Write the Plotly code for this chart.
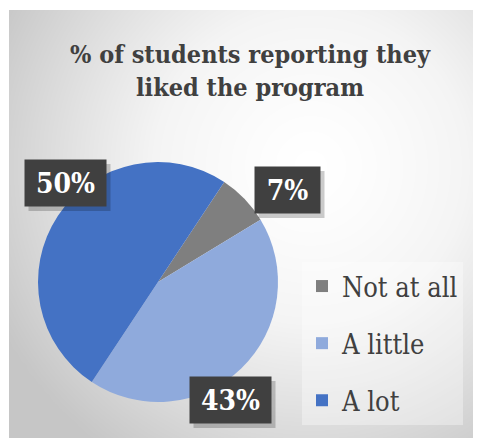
import numpy as np
import plotly.graph_objects as go

# ---- data ----
categories = ["Not at all", "A little", "A lot"]
percent_values = [7, 43, 50]
slice_colors = ["#7f7f7f", "#8faadc", "#4472c4"]
title_text = "% of students reporting they<br>liked the program"

# label box centres (reference px, style only)
label_pos_px = [(287, 190), (230, 400), (65, 183)]

W, H = 473, 430
OFF = 8  # page body margin offset
SERIF = "DejaVu Serif Condensed, DejaVu Serif"


def px(x):
    return (x - OFF) / W


def py(y):
    return 1 - (y - OFF) / H


fig = go.Figure()

# background radial gradient (styling only)
gx = np.linspace(0, 1, 60)
gy = np.linspace(0, 1, 60)
X, Y = np.meshgrid(gx, gy)
cxp, cyp = px(310), py(165)
D = np.sqrt(((X - cxp) * W) ** 2 + ((Y - cyp) * H) ** 2)
Z = np.clip(D / 350.0, 0, 1) ** 1.3
fig.add_trace(go.Heatmap(
    x=gx, y=gy, z=Z, zsmooth="best", showscale=False, hoverinfo="skip",
    colorscale=[[0, "#ffffff"], [0.35, "#f4f4f4"], [1, "#c6c6c6"]],
    xaxis="x", yaxis="y",
))

# pie
fig.add_trace(go.Pie(
    labels=categories, values=percent_values, sort=False, direction="clockwise",
    rotation=33.5, marker=dict(colors=slice_colors, line=dict(width=0)),
    textinfo="none", hoverinfo="label+percent", showlegend=False,
    domain=dict(x=[px(38), px(278)], y=[py(402), py(162)]),
))

# legend entries
for i, (cat, col) in enumerate(zip(categories, slice_colors)):
    fig.add_trace(go.Scatter(
        x=[None], y=[None], mode="markers", name=cat, legendgroup=f"g{i}",
        marker=dict(symbol="square", size=16, color=col),
        xaxis="x", yaxis="y",
    ))

# data labels
total = sum(percent_values)
annotations = []
shapes = []
for (lx, ly), v in zip(label_pos_px, percent_values):
    s = f"{round(100 * v / total)}%"
    bw, bh = 16 * len(s) + 33, 46
    shapes.append(dict(
        type="rect", xref="paper", yref="paper", layer="above",
        x0=px(lx - bw / 2 + 4), x1=px(lx + bw / 2 + 5),
        y0=py(ly + bh / 2 + 5), y1=py(ly - bh / 2 + 4),
        fillcolor="rgba(0,0,0,0.2)", line=dict(width=0),
    ))
    annotations.append(dict(
        x=px(lx), y=py(ly), xref="paper", yref="paper",
        xanchor="center", yanchor="middle",
        text=f"<b>{s}</b>", showarrow=False,
        font=dict(family=SERIF, size=28, color="white"),
        bgcolor="#404040", borderpad=0, width=bw, height=bh,
    ))

annotations.append(dict(
    x=px(250), y=py(71), xref="paper", yref="paper", text=f"<b>{title_text}</b>",
    showarrow=False, font=dict(family=SERIF, size=25, color="#404040"),
    xanchor="center", yanchor="middle",
))

fig.update_layout(
    width=W, height=H, margin=dict(l=0, r=0, t=0, b=0),
    paper_bgcolor="white", plot_bgcolor="white",
    xaxis=dict(domain=[px(9), 1], range=[0, 1], visible=False, fixedrange=True),
    yaxis=dict(domain=[0, py(10)], range=[0, 1], visible=False, fixedrange=True),
    showlegend=True,
    legend=dict(
        x=px(302), y=py(262), xanchor="left", yanchor="top",
        font=dict(family=SERIF, size=27, color="#404040"),
        bgcolor="rgba(255,255,255,0.35)", tracegroupgap=19,
        itemsizing="constant",
    ),
    annotations=annotations,
    shapes=shapes,
)

fig.write_html("out.html")
